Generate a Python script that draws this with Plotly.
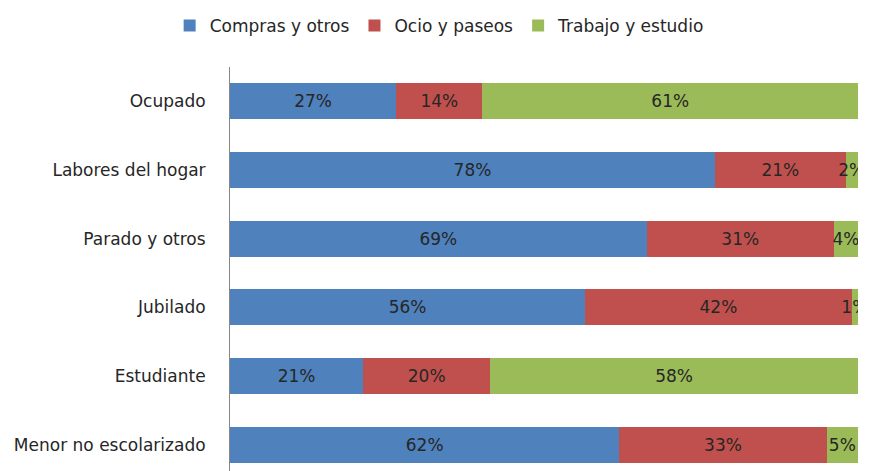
import plotly.graph_objects as go

categories = ["Ocupado", "Labores del hogar", "Parado y otros", "Jubilado", "Estudiante", "Menor no escolarizado"]
compras = [27, 78, 69, 56, 21, 62]
ocio = [14, 21, 31, 42, 20, 33]
trabajo = [61, 2, 4, 1, 58, 5]

series = [
    ("Compras y otros", compras, "#4F81BD"),
    ("Ocio y paseos", ocio, "#C0504D"),
    ("Trabajo y estudio", trabajo, "#9BBB59"),
]

FONT = "DejaVu Sans"
FS = 17
fig = go.Figure()
for name, vals, color in series:
    fig.add_trace(go.Bar(
        y=categories, x=vals, name=name, orientation="h",
        marker=dict(color=color, line=dict(width=0)),
        text=[f"{v}%" for v in vals], textposition="inside",
        insidetextanchor="middle", textangle=0, constraintext="none",
        textfont=dict(family=FONT, size=FS, color="#262626"),
        hoverinfo="skip",
    ))

fig.update_layout(
    barmode="stack", barnorm="percent", bargap=0.48,
    width=872, height=471,
    margin=dict(l=222, r=22, t=59, b=0),
    paper_bgcolor="white", plot_bgcolor="white",
    font=dict(family=FONT, size=FS, color="#262626"),
    uniformtext=dict(minsize=FS, mode="show"),
    showlegend=True,
    legend=dict(orientation="h", xref="container", yref="container",
                x=0.495, xanchor="center", y=1.0, yanchor="top",
                font=dict(family=FONT, size=FS, color="#262626"),
                traceorder="normal", itemwidth=30),
    xaxis=dict(range=[0, 100], showticklabels=False, showgrid=False,
               zeroline=False, showline=False, fixedrange=True),
    yaxis=dict(range=[5.5, -0.5], showgrid=False, zeroline=False,
               showline=True, linecolor="#868686", linewidth=1,
               ticks="", ticklabelstandoff=20,
               tickfont=dict(family=FONT, size=FS, color="#262626")),
)

fig.write_html("out.html")
